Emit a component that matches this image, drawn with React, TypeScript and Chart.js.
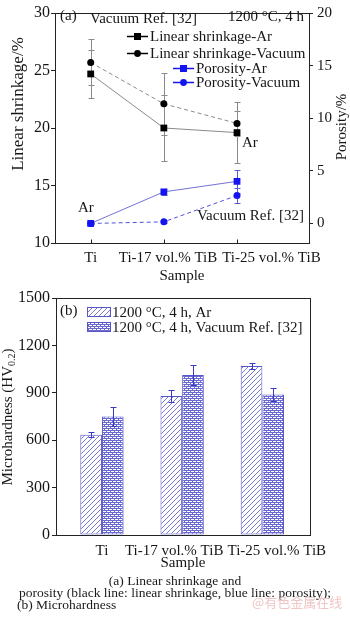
import React, { useEffect, useRef } from "react";
import { Chart, registerables } from "chart.js";

Chart.register(...registerables);

// ---------- data ----------
const samples = ["Ti", "Ti-17 vol.% TiB", "Ti-25 vol.% TiB"];

const shrinkAr = [24.7, 20.0, 19.6];
const shrinkArErr = [2.1, 2.85, 2.65];
const shrinkVac = [25.7, 22.1, 20.4];
const shrinkVacErr = [2.0, 2.7, 1.1];

const porosityAr = [0.0, 3.0, 4.0];
const porosityArErr = [0.1, 0.3, 1.1];
const porosityVac = [0.0, 0.15, 2.65];
const porosityVacErr = [0.1, 0.1, 0.7];

const shrinkTicks = [10, 15, 20, 25, 30];
const porosityTicks = [0, 5, 10, 15, 20];

const hardAr = [635, 880, 1070];
const hardArErr = [15, 38, 17];
const hardVac = [750, 1012, 890];
const hardVacErr = [62, 62, 39];
const hardTicks = [0, 300, 600, 900, 1200, 1500];

// ---------- helpers ----------
const SERIF = "'Liberation Serif', 'Times New Roman', serif";
const TXT = "#161616";

function fnt(size: number) {
  return `${size}px ${SERIF}`;
}

function drawText(
  ctx: CanvasRenderingContext2D,
  text: string,
  x: number,
  y: number,
  size: number,
  align: CanvasTextAlign = "left",
  rotate = 0,
  color = TXT
) {
  ctx.save();
  ctx.translate(x, y);
  if (rotate) ctx.rotate(rotate);
  ctx.font = fnt(size);
  ctx.fillStyle = color;
  ctx.textAlign = align;
  ctx.textBaseline = "middle";
  ctx.fillText(text, 0, 0);
  ctx.restore();
}

function makeHatch(): CanvasPattern | string {
  const c = document.createElement("canvas");
  const s = 5;
  c.width = s;
  c.height = s;
  const g = c.getContext("2d");
  if (!g) return "#ccd";
  g.fillStyle = "#ffffff";
  g.fillRect(0, 0, s, s);
  g.strokeStyle = "#7a7ad4";
  g.lineWidth = 1;
  g.beginPath();
  g.moveTo(0, s);
  g.lineTo(s, 0);
  g.moveTo(-1, 1);
  g.lineTo(1, -1);
  g.moveTo(s - 1, s + 1);
  g.lineTo(s + 1, s - 1);
  g.stroke();
  return g.createPattern(c, "repeat") || "#ccd";
}

function makeCross(): CanvasPattern | string {
  const c = document.createElement("canvas");
  const s = 4;
  c.width = s;
  c.height = s;
  const g = c.getContext("2d");
  if (!g) return "#88c";
  g.fillStyle = "#ffffff";
  g.fillRect(0, 0, s, s);
  g.fillStyle = "#6a6ad0";
  for (let x = 0; x < s; x++) {
    for (let y = 0; y < s; y++) {
      if ((x + y) % 4 === 0 || (x - y + 4) % 4 === 0 || ((x + y) % 2 === 1 && x % 2 === 0)) {
        g.fillRect(x, y, 1, 1);
      }
    }
  }
  return g.createPattern(c, "repeat") || "#88c";
}

const errorBarPlugin = (id: string, after: boolean, cap: number) => {
  const draw = (chart: any) => {
    const ctx = chart.ctx as CanvasRenderingContext2D;
    chart.data.datasets.forEach((ds: any, di: number) => {
      const meta = chart.getDatasetMeta(di);
      const ys = chart.scales[meta.yAxisID];
      ctx.save();
      ctx.strokeStyle = ds.errorColor;
      ctx.lineWidth = 1;
      meta.data.forEach((el: any, i: number) => {
        const v = ds.data[i].y;
        const e = ds.errors[i];
        const x = Math.round(el.x) + 0.5;
        const t = Math.round(ys.getPixelForValue(v + e)) + 0.5;
        const b = Math.round(ys.getPixelForValue(v - e)) + 0.5;
        ctx.beginPath();
        ctx.moveTo(x, t);
        ctx.lineTo(x, b);
        ctx.moveTo(x - cap, t);
        ctx.lineTo(x + cap, t);
        ctx.moveTo(x - cap, b);
        ctx.lineTo(x + cap, b);
        ctx.stroke();
      });
      ctx.restore();
    });
  };
  return after
    ? { id, afterDatasetsDraw: draw }
    : { id, beforeDatasetsDraw: draw };
};

const framePlugin = (innerTicks: boolean) => ({
  id: "frame",
  afterDatasetsDraw(chart: any) {
    const { ctx, chartArea } = chart;
    const l = Math.round(chartArea.left) + 0.5;
    const r = Math.round(chartArea.right) + 0.5;
    const t = Math.round(chartArea.top) + 0.5;
    const b = Math.round(chartArea.bottom) + 0.5;
    ctx.save();
    ctx.strokeStyle = "#222";
    ctx.lineWidth = 1;
    ctx.strokeRect(l, t, r - l, b - t);
    if (innerTicks) {
      const xs = chart.scales.x;
      ctx.beginPath();
      samples.forEach((_, i) => {
        const x = Math.round(xs.getPixelForValue(i)) + 0.5;
        ctx.moveTo(x, b);
        ctx.lineTo(x, b - 4);
      });
      ctx.stroke();
    }
    ctx.restore();
  },
});

const legendAPlugin = {
  id: "legendA",
  afterDraw(chart: any) {
    const ctx = chart.ctx as CanvasRenderingContext2D;
    const rows = [
      { ds: 0, lx: 127, y: 36 },
      { ds: 1, lx: 127, y: 53 },
      { ds: 2, lx: 173, y: 68 },
      { ds: 3, lx: 173, y: 82 },
    ];
    rows.forEach((r) => {
      const ds: any = chart.data.datasets[r.ds];
      ctx.save();
      ctx.strokeStyle = ds.pointBackgroundColor;
      ctx.lineWidth = 1.5;
      ctx.beginPath();
      ctx.moveTo(r.lx, r.y + 0.5);
      ctx.lineTo(r.lx + 21, r.y + 0.5);
      ctx.stroke();
      ctx.fillStyle = ds.pointBackgroundColor;
      const cx = r.lx + 10.5;
      if (ds.pointStyle === "rect") {
        ctx.fillRect(cx - 3.5, r.y - 3, 7, 7);
      } else {
        ctx.beginPath();
        ctx.arc(cx, r.y + 0.5, 3.4, 0, Math.PI * 2);
        ctx.fill();
      }
      ctx.restore();
      drawText(ctx, ds.label, r.lx + 23, r.y + 1, 15);
    });
  },
};

const annotAPlugin = {
  id: "annotA",
  afterDraw(chart: any) {
    const ctx = chart.ctx as CanvasRenderingContext2D;
    drawText(ctx, "(a)", 60, 16, 15);
    drawText(ctx, "Vacuum Ref. [32]", 90, 19, 15);
    drawText(ctx, "1200 °C, 4 h", 304, 17, 15, "right");
    drawText(ctx, "Ar", 242, 143, 15);
    drawText(ctx, "Ar", 78, 208, 15);
    drawText(ctx, "Vacuum Ref. [32]", 304, 216, 15, "right");
    drawText(ctx, "Linear shrinkage/%", 19, 104, 17, "center", -Math.PI / 2);
    drawText(ctx, "Porosity/%", 342, 127, 15, "center", -Math.PI / 2);
  },
};

const legendBPlugin = {
  id: "legendB",
  afterDraw(chart: any) {
    const ctx = chart.ctx as CanvasRenderingContext2D;
    drawText(ctx, "(b)", 60, 26, 15);
    const rows = [
      { ds: 0, y: 27 },
      { ds: 1, y: 42 },
    ];
    rows.forEach((r) => {
      const ds: any = chart.data.datasets[r.ds];
      ctx.save();
      ctx.fillStyle = ds.backgroundColor;
      ctx.fillRect(87, r.y - 4.5, 23, 9);
      ctx.strokeStyle = ds.borderColor;
      ctx.lineWidth = 1;
      ctx.strokeRect(87.5, r.y - 4.5, 23, 9);
      ctx.restore();
      drawText(ctx, ds.label, 112, r.y + 1, 15);
    });
    // axis title with subscript
    ctx.save();
    ctx.translate(8, 132);
    ctx.rotate(-Math.PI / 2);
    ctx.font = fnt(15);
    ctx.fillStyle = TXT;
    ctx.textBaseline = "middle";
    const p1 = "Microhardness (HV";
    const p2 = "0.2";
    const p3 = ")";
    const w1 = ctx.measureText(p1).width;
    const w3 = ctx.measureText(p3).width;
    ctx.font = fnt(10);
    const w2 = ctx.measureText(p2).width;
    const total = w1 + w2 + w3;
    let x = -total / 2;
    ctx.font = fnt(15);
    ctx.fillText(p1, x, 0);
    x += w1;
    ctx.font = fnt(10);
    ctx.fillText(p2, x, 4);
    x += w2;
    ctx.font = fnt(15);
    ctx.fillText(p3, x, 0);
    ctx.restore();
  },
};

const plainNum = (v: any) => String(v);

export default function App() {
  const refA = useRef<HTMLCanvasElement>(null);
  const refB = useRef<HTMLCanvasElement>(null);

  useEffect(() => {
    if (!refA.current || !refB.current) return;
    Chart.defaults.font.family = SERIF;
    Chart.defaults.color = TXT;

    const pts = (arr: number[]) => arr.map((v, i) => ({ x: i, y: v }));

    const chartA = new Chart(refA.current, {
      type: "line",
      data: {
        datasets: [
          {
            label: "Linear shrinkage-Ar",
            data: pts(shrinkAr),
            errors: shrinkArErr,
            errorColor: "#8a8a8a",
            yAxisID: "y",
            borderColor: "#8a8a8a",
            borderWidth: 1,
            pointStyle: "rect",
            pointRadius: 4.8,
            pointBackgroundColor: "#000000",
            pointBorderColor: "#000000",
            pointBorderWidth: 0,
          } as any,
          {
            label: "Linear shrinkage-Vacuum",
            data: pts(shrinkVac),
            errors: shrinkVacErr,
            errorColor: "#8a8a8a",
            yAxisID: "y",
            borderColor: "#8a8a8a",
            borderWidth: 1,
            borderDash: [4, 3],
            pointStyle: "circle",
            pointRadius: 3.5,
            pointBackgroundColor: "#000000",
            pointBorderColor: "#000000",
            pointBorderWidth: 0,
          } as any,
          {
            label: "Porosity-Ar",
            data: pts(porosityAr),
            errors: porosityArErr,
            errorColor: "#5a5ad8",
            yAxisID: "y2",
            borderColor: "#7272d4",
            borderWidth: 1,
            pointStyle: "rect",
            pointRadius: 4.8,
            pointBackgroundColor: "#1414f0",
            pointBorderColor: "#1414f0",
            pointBorderWidth: 0,
          } as any,
          {
            label: "Porosity-Vacuum",
            data: pts(porosityVac),
            errors: porosityVacErr,
            errorColor: "#5a5ad8",
            yAxisID: "y2",
            borderColor: "#5050dc",
            borderWidth: 1,
            borderDash: [4, 3],
            pointStyle: "circle",
            pointRadius: 3.5,
            pointBackgroundColor: "#1414f0",
            pointBorderColor: "#1414f0",
            pointBorderWidth: 0,
          } as any,
        ],
      },
      options: {
        responsive: false,
        animation: false,
        layout: { padding: { top: 5, left: 0, right: 0, bottom: 0 } },
        plugins: { legend: { display: false }, tooltip: { enabled: false } },
        scales: {
          x: {
            type: "linear",
            min: -0.488,
            max: 2.984,
            offset: false,
            grid: { display: false, drawTicks: false },
            border: { display: false },
            afterBuildTicks: (s: any) => {
              s.ticks = [0, 1.057, 2.47].map((v) => ({ value: v }));
            },
            ticks: {
              callback: (_v: any, i: number) => samples[i],
              font: { size: 15 },
              padding: 6,
              maxRotation: 0,
              autoSkip: false,
              color: TXT,
            },
            title: {
              display: true,
              text: "Sample",
              font: { size: 15 },
              padding: { top: 0, bottom: 0 },
              color: TXT,
            },
            afterFit: (s: any) => {
              s.height = 42;
            },
          } as any,
          y: {
            type: "linear",
            position: "left",
            min: 10,
            max: 30,
            afterBuildTicks: (s: any) => {
              s.ticks = shrinkTicks.map((v) => ({ value: v }));
            },
            grid: { drawOnChartArea: false, drawTicks: true, tickLength: 4, color: "#222" },
            border: { display: false },
            ticks: { font: { size: 16 }, padding: 1, color: TXT, callback: plainNum },
            afterFit: (s: any) => {
              s.width = 55;
            },
          } as any,
          y2: {
            type: "linear",
            position: "right",
            min: -1.86,
            max: 20,
            afterBuildTicks: (s: any) => {
              s.ticks = porosityTicks.map((v) => ({ value: v }));
            },
            grid: { drawOnChartArea: false, drawTicks: true, tickLength: 4, color: "#222" },
            border: { display: false },
            ticks: { font: { size: 15 }, padding: 4, color: TXT, callback: plainNum },
            afterFit: (s: any) => {
              s.width = 41;
            },
          } as any,
        },
      },
      plugins: [
        errorBarPlugin("errA", false, 3),
        framePlugin(true),
        legendAPlugin,
        annotAPlugin,
      ],
    });

    const hatch = makeHatch();
    const cross = makeCross();

    const chartB = new Chart(refB.current, {
      type: "bar",
      data: {
        datasets: [
          {
            label: "1200 °C, 4 h, Ar",
            data: pts(hardAr),
            errors: hardArErr,
            errorColor: "#3a3ac4",
            backgroundColor: hatch,
            borderColor: "#5656c8",
            borderWidth: 1,
            borderSkipped: false,
            categoryPercentage: 0.6,
            barPercentage: 1,
          } as any,
          {
            label: "1200 °C, 4 h, Vacuum Ref. [32]",
            data: pts(hardVac),
            errors: hardVacErr,
            errorColor: "#3a3ac4",
            backgroundColor: cross,
            borderColor: "#5656c8",
            borderWidth: 1,
            borderSkipped: false,
            categoryPercentage: 0.6,
            barPercentage: 1,
          } as any,
        ],
      },
      options: {
        responsive: false,
        animation: false,
        layout: { padding: { top: 13, left: 0, right: 40, bottom: 0 } },
        plugins: { legend: { display: false }, tooltip: { enabled: false } },
        scales: {
          x: {
            type: "linear",
            min: -0.573,
            max: 2.594,
            offset: false,
            grid: { display: false, drawTicks: false },
            border: { display: false },
            afterBuildTicks: (s: any) => {
              s.ticks = [0, 0.9, 2.18].map((v) => ({ value: v }));
            },
            ticks: {
              callback: (_v: any, i: number) => samples[i],
              font: { size: 15 },
              padding: 7,
              maxRotation: 0,
              autoSkip: false,
              color: TXT,
            },
            title: {
              display: true,
              text: "Sample",
              font: { size: 15 },
              padding: { top: 0, bottom: 3 },
              color: TXT,
            },
            afterFit: (s: any) => {
              s.height = 40;
            },
          } as any,
          y: {
            type: "linear",
            position: "left",
            min: 0,
            max: 1500,
            afterBuildTicks: (s: any) => {
              s.ticks = hardTicks.map((v) => ({ value: v }));
            },
            grid: { drawOnChartArea: false, drawTicks: true, tickLength: 4, color: "#222" },
            border: { display: false },
            ticks: { font: { size: 16 }, padding: 2, color: TXT, callback: plainNum },
            afterFit: (s: any) => {
              s.width = 56;
            },
          } as any,
        },
      },
      plugins: [errorBarPlugin("errB", true, 3), framePlugin(false), legendBPlugin],
    });

    return () => {
      chartA.destroy();
      chartB.destroy();
    };
  }, []);

  const capStyle: React.CSSProperties = {
    position: "absolute",
    fontFamily: SERIF,
    fontSize: 13.5,
    lineHeight: "14px",
    height: 14,
    color: "#1a1a1a",
    whiteSpace: "nowrap",
  };

  return (
    <div
      style={{
        position: "absolute",
        left: 0,
        top: 0,
        width: 350,
        height: 631,
        background: "#ffffff",
        overflow: "hidden",
      }}
    >
      <canvas
        ref={refA}
        width={350}
        height={285}
        style={{ position: "absolute", left: 0, top: 0, display: "block" }}
      />
      <canvas
        ref={refB}
        width={350}
        height={290}
        style={{ position: "absolute", left: 0, top: 285, display: "block" }}
      />
      <div style={{ ...capStyle, left: 0, width: 350, top: 574, textAlign: "center" }}>
        (a) Linear shrinkage and
      </div>
      <div style={{ ...capStyle, left: 0, width: 350, top: 586, textAlign: "center" }}>
        porosity (black line: linear shrinkage, blue line: porosity);
      </div>
      <div style={{ ...capStyle, left: 17, top: 598 }}>(b) Microhardness</div>
      <div
        style={{
          position: "absolute",
          left: 252,
          top: 594,
          fontFamily: "'Noto Sans CJK SC', sans-serif",
          fontSize: 13,
          lineHeight: "16px",
          color: "#f0c6c6",
          whiteSpace: "nowrap",
        }}
      >
        @有色金属在线
      </div>
    </div>
  );
}
